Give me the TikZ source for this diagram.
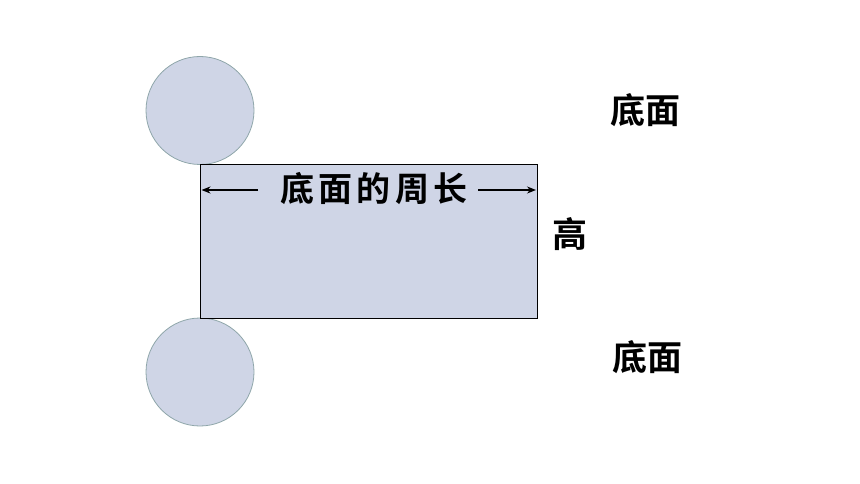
\documentclass[tikz,border=0pt]{standalone}
\usepackage{fontspec}
\newfontfamily\cjk{Noto Sans CJK SC}[BoldFont={Noto Sans CJK SC Bold}]
\newfontfamily\cjksp{Noto Sans CJK SC}[BoldFont={Noto Sans CJK SC Bold},LetterSpace=12]
\usetikzlibrary{arrows.meta}
\definecolor{facefill}{HTML}{CFD5E6}
\definecolor{circedge}{HTML}{8FA6AA}
\begin{document}
\begin{tikzpicture}[x=1pt,y=-1pt,
  face/.style={fill=facefill},
  disc/.style={face,draw=circedge,line width=0.8pt,circle,minimum size=108pt,inner sep=0pt},
  lbl/.style={font=\cjk\bfseries\fontsize{35}{40}\selectfont,inner sep=0pt},
  perlbl/.style={font=\cjksp\bfseries\fontsize{34}{40}\selectfont,inner sep=0pt},
  dim/.style={-{Stealth[length=9pt,width=7pt]},line width=2.4pt}]
\useasboundingbox (0,0) rectangle (860,484);
\node[disc] (top) at (200,110.5) {};
\node[disc] (bot) at (200,372) {};
\draw[face,draw=black,line width=0.8pt] (200,164.5) rectangle (537,318);
\coordinate (L) at (201.5,190);
\coordinate (R) at (536,190);
\node[perlbl] (per) at (374,189) {底面的周长};
\coordinate (pl) at (258,190);
\coordinate (pr) at (478,190);
\draw[dim] (pl) -- (L);
\draw[dim] (pr) -- (R);
\node[lbl] (t1) at (645,110) {底面};
\node[lbl] (h) at (570,234) {高};
\node[lbl] (t2) at (647,357) {底面};
\end{tikzpicture}
\end{document}
